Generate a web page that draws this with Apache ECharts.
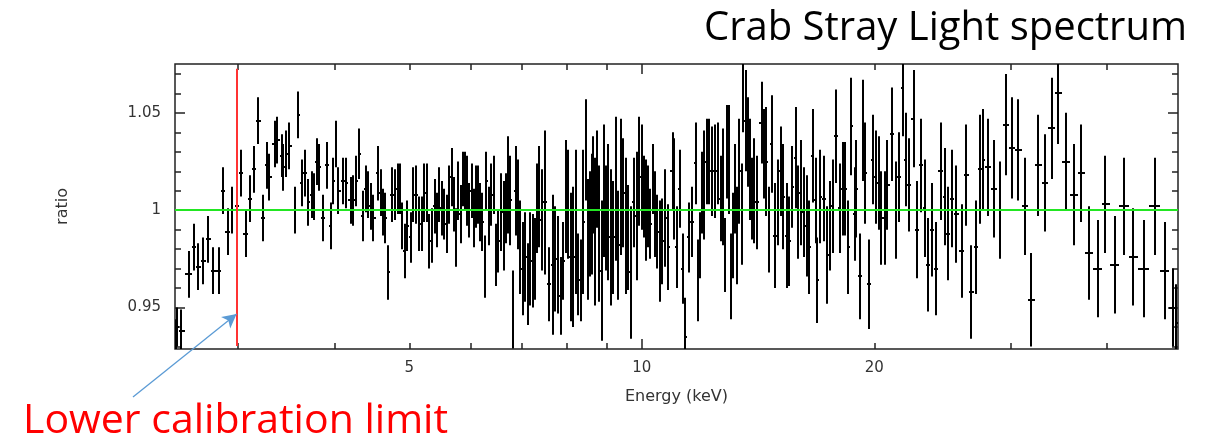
<!DOCTYPE html>
<html>
<head>
<meta charset="utf-8">
<script src="https://cdn.jsdelivr.net/npm/echarts@6/dist/echarts.min.js"></script>
<style>
  html, body { margin: 0; padding: 0; background: #fff; }
  #chart { width: 1217px; height: 442px; }
</style>
</head>
<body>
<div id="chart"></div>
<script>
// bin centres (keV), data/model ratio and its 1-sigma error
const energy = [
  2.49, 2.50, 2.53, 2.592, 2.631, 2.665, 2.706, 2.747, 2.788, 2.831,
  2.869, 2.908, 2.950, 2.989, 3.024, 3.072, 3.109, 3.147, 3.188, 3.230,
  3.268, 3.294, 3.350, 3.373, 3.417, 3.434, 3.461, 3.496, 3.555, 3.590,
  3.627, 3.663, 3.700, 3.737, 3.763, 3.793, 3.819, 3.868, 3.915, 3.955,
  3.986, 4.017, 4.045,
  4.106, 4.139, 4.198, 4.230, 4.264, 4.306, 4.350, 4.393, 4.423, 4.455,
  4.489, 4.557, 4.589, 4.625, 4.649, 4.694, 4.742, 4.789, 4.827, 4.861,
  4.885, 4.934, 4.968, 5.019, 5.058, 5.099, 5.149, 5.186, 5.226, 5.273,
  5.304, 5.347, 5.395, 5.432, 5.465, 5.504, 5.541, 5.586, 5.630, 5.670,
  5.709, 5.743, 5.783, 5.824, 5.859, 5.899, 5.929, 5.975, 6.018, 6.059,
  6.095, 6.137, 6.181, 6.218, 6.261, 6.292, 6.342, 6.387, 6.431, 6.469,
  6.514,
  6.580, 6.625, 6.665, 6.711, 6.759, 6.813, 6.867, 6.915, 6.964, 7.006,
  7.056, 7.126, 7.162, 7.219, 7.268, 7.318, 7.362,
  7.417, 7.490, 7.588, 7.665, 7.719, 7.794, 7.850, 7.911, 7.975, 8.030,
  8.088, 8.150, 8.216, 8.272, 8.332, 8.398, 8.466, 8.525, 8.568, 8.610,
  8.650, 8.693, 8.754, 8.806, 8.869, 8.930, 8.984, 9.046, 9.111, 9.182,
  9.256, 9.320,
  9.395, 9.460, 9.537, 9.601, 9.672, 9.765, 9.845, 9.922, 9.993, 10.06,
  10.12, 10.19, 10.26, 10.33, 10.40, 10.47,
  10.55, 10.63, 10.71, 10.82, 10.96, 11.00, 11.09, 11.20, 11.29, 11.39,
  11.52, 11.60, 11.75, 11.83, 11.89, 11.98, 12.03, 12.13, 12.22, 12.31,
  12.43, 12.56, 12.65, 12.75, 12.81, 12.90, 12.97, 13.03, 13.11, 13.20,
  13.29, 13.37, 13.47, 13.51, 13.64, 13.71, 13.80, 13.87, 13.97, 14.08,
  14.29, 14.39, 14.50, 14.62, 14.72, 14.87, 15.02, 15.12, 15.24, 15.40,
  15.52, 15.67, 15.83, 15.94, 16.05, 16.21, 16.34, 16.47, 16.66, 16.80,
  16.87, 17.00,
  17.21, 17.38, 17.52, 17.66, 17.83, 18.05, 18.19, 18.32, 18.50, 18.68,
  18.87, 18.96, 19.19, 19.34, 19.44, 19.69, 19.93, 20.09, 20.29, 20.38,
  20.65, 20.79, 21.07, 21.35, 21.50, 21.80, 21.95, 22.18, 22.48, 22.71,
  23.00, 23.23, 23.48, 23.72, 24.01, 24.41, 24.67, 24.92, 25.23, 25.55,
  25.96, 26.29, 26.70, 27.11, 27.40,
  27.67, 28.05, 28.56, 29.08, 29.60, 30.16, 30.74, 31.33, 31.89, 32.63,
  33.25, 33.98, 34.59, 35.39, 36.25, 37.09, 37.91, 38.98, 39.84, 40.96,
  42.11, 43.26, 44.66, 46.15, 47.64, 48.7, 49.2
];

const ratio = [
  0.932, 0.940, 0.938, 0.967, 0.981, 0.971, 0.974, 0.985, 0.969, 0.969,
  1.010, 0.989, 1.000, 1.002, 1.019, 0.988, 1.006, 1.021, 1.046, 0.996,
  1.023, 1.017, 1.034, 1.036, 1.028, 1.022, 1.029, 1.033, 1.000, 1.049,
  1.014, 1.019, 1.004, 1.008, 1.007, 1.025, 1.022, 0.996, 1.023, 0.992,
  1.015, 1.034, 1.010,
  1.015, 1.014, 1.005, 1.005, 1.015, 1.029, 0.997, 1.011, 1.008, 1.002,
  0.996, 1.019, 1.009, 0.999, 0.996, 0.968, 1.008, 1.008, 1.011, 1.011,
  0.992, 0.979, 0.992, 0.986, 1.008, 1.008, 0.993, 0.993, 1.009, 1.009,
  0.984, 0.987, 1.002, 0.995, 1.008, 1.001, 0.998, 0.993, 1.008, 1.017,
  1.003, 0.986, 1.010, 0.998, 1.016, 1.015, 1.010, 1.000, 1.010, 0.996,
  1.007, 1.008, 0.999, 0.994, 0.971, 1.015, 0.997, 1.008, 1.013, 0.977,
  0.984,
  0.999, 0.992, 1.001, 1.013, 1.005, 0.949, 1.010, 1.003, 0.981, 0.970,
  0.976, 0.962, 0.975, 0.974, 0.975, 1.001, 1.007,
  0.995, 1.004, 0.962, 0.972, 0.975, 0.972, 0.956, 0.974, 1.007, 1.003,
  0.976, 0.976, 0.994, 0.967, 0.964, 0.994, 1.031, 0.985, 0.993, 0.998,
  1.013, 0.989, 1.016, 0.988, 0.969, 1.010, 0.996, 0.999, 0.986, 0.986,
  1.011, 0.982,
  1.012, 1.009, 0.992, 0.986, 0.968, 1.004, 0.997, 1.020, 1.017, 1.007,
  1.000, 1.002, 0.993, 1.016, 0.998, 0.989,
  0.979, 0.984, 0.996, 0.981, 1.020, 1.011, 0.981, 1.011, 0.970, 0.935,
  0.986, 0.994, 1.024, 0.964, 0.982, 1.009, 1.013, 1.025, 1.025, 1.020,
  1.020, 1.024, 1.006, 1.012, 0.977, 1.030, 1.026, 0.966, 0.987, 1.011,
  0.987, 1.020, 0.998, 1.062, 1.046, 1.035, 1.021, 1.006, 1.010, 1.004,
  1.045, 1.029, 1.025, 0.990, 1.034, 0.987, 1.004, 1.020, 1.007, 0.987,
  0.984, 1.012, 1.027, 0.999, 1.009, 0.999, 0.992, 0.981, 1.028, 1.005,
  0.964, 1.007,
  1.006, 0.977, 0.992, 1.002, 1.038, 1.001, 1.011, 1.011, 0.981, 1.043,
  0.998, 1.011, 0.966, 1.041, 1.019, 0.962, 1.026, 1.017, 1.014, 0.996,
  0.996, 1.013, 1.039, 1.000, 1.017, 1.063, 1.026, 1.013, 1.047, 0.990,
  1.023, 1.001, 0.972, 0.990, 0.970, 1.020, 1.007, 0.988, 1.006, 0.998,
  0.979, 1.018, 0.958, 0.981, 1.021,
  1.026, 1.022, 1.011, 1.000, 1.044, 1.032, 1.031, 1.002, 0.954, 1.023,
  1.014, 1.042, 1.060, 1.025, 1.008, 1.019, 0.978, 0.970, 1.003, 0.972,
  1.002, 0.976, 0.970, 1.002, 0.969, 0.950, 0.942
];

const ratioErr = [
  0.012, 0.010, 0.011, 0.012, 0.012, 0.012, 0.012, 0.012, 0.012, 0.012,
  0.012, 0.012, 0.012, 0.012, 0.012, 0.012, 0.012, 0.012, 0.012, 0.012,
  0.012, 0.012, 0.012, 0.012, 0.011, 0.012, 0.012, 0.012, 0.012, 0.012,
  0.012, 0.012, 0.012, 0.012, 0.012, 0.012, 0.012, 0.012, 0.012, 0.012,
  0.012, 0.012, 0.012,
  0.012, 0.013, 0.012, 0.013, 0.013, 0.013, 0.013, 0.012, 0.012, 0.012,
  0.012, 0.014, 0.012, 0.012, 0.013, 0.014, 0.014, 0.013, 0.013, 0.013,
  0.012, 0.014, 0.013, 0.013, 0.014, 0.015, 0.014, 0.014, 0.015, 0.015,
  0.014, 0.014, 0.014, 0.014, 0.014, 0.014, 0.013, 0.015, 0.015, 0.015,
  0.014, 0.015, 0.015, 0.015, 0.014, 0.015, 0.018, 0.014, 0.014, 0.015,
  0.016, 0.015, 0.015, 0.015, 0.016, 0.015, 0.015, 0.016, 0.015, 0.016,
  0.016,
  0.020, 0.023, 0.018, 0.025, 0.023, 0.020, 0.023, 0.023, 0.024, 0.024,
  0.023, 0.021, 0.024, 0.024, 0.021, 0.023, 0.026,
  0.026, 0.037, 0.019, 0.036, 0.027, 0.025, 0.020, 0.020, 0.029, 0.028,
  0.033, 0.036, 0.037, 0.021, 0.021, 0.037, 0.026, 0.031, 0.027, 0.031,
  0.025, 0.038, 0.025, 0.035, 0.036, 0.034, 0.027, 0.035, 0.035, 0.029,
  0.037, 0.028,
  0.035, 0.028, 0.035, 0.027, 0.034, 0.023, 0.033, 0.028, 0.027, 0.021,
  0.026, 0.021, 0.018, 0.018, 0.022, 0.019,
  0.026, 0.022, 0.025, 0.022, 0.020, 0.026, 0.021, 0.020, 0.018, 0.020,
  0.018, 0.018, 0.021, 0.021, 0.017, 0.021, 0.028, 0.022, 0.022, 0.023,
  0.024, 0.021, 0.022, 0.030, 0.019, 0.024, 0.028, 0.022, 0.022, 0.023,
  0.025, 0.027, 0.026, 0.022, 0.026, 0.023, 0.026, 0.021, 0.027, 0.024,
  0.021, 0.023, 0.028, 0.022, 0.025, 0.027, 0.022, 0.023, 0.027, 0.027,
  0.023, 0.021, 0.026, 0.024, 0.027, 0.023, 0.026, 0.024, 0.024, 0.022,
  0.022, 0.024,
  0.022, 0.025, 0.023, 0.024, 0.024, 0.023, 0.024, 0.024, 0.024, 0.025,
  0.024, 0.025, 0.022, 0.026, 0.026, 0.023, 0.023, 0.024, 0.024, 0.024,
  0.024, 0.023, 0.024, 0.025, 0.023, 0.025, 0.024, 0.024, 0.025, 0.025,
  0.024, 0.025, 0.024, 0.024, 0.024, 0.025, 0.025, 0.024, 0.025, 0.025,
  0.024, 0.026, 0.024, 0.024, 0.028,
  0.026, 0.025, 0.025, 0.025, 0.026, 0.026, 0.026, 0.025, 0.024, 0.026,
  0.025, 0.026, 0.026, 0.025, 0.026, 0.025, 0.024, 0.025, 0.025, 0.025,
  0.025, 0.025, 0.025, 0.025, 0.025, 0.020, 0.020
];

const xTicks = [3, 4, 5, 6, 7, 8, 9, 10, 20, 30, 40];
const xMajorTicks = [10];
const xLabels = [5, 10, 20];
const yTicks = [0.93, 0.94, 0.95, 0.96, 0.97, 0.98, 0.99, 1.00,
  1.01, 1.02, 1.03, 1.04, 1.05, 1.06, 1.07];
const yLabels = [0.95, 1, 1.05];
const calibLimit = 2.987;

const X_MIN = 2.486, X_MAX = 49.46;
const Y_MIN = 0.9287, Y_MAX = 1.0751;

// bin edges from the neighbouring centres (geometric means, log axis)
const points = energy.map((e, i) => {
  const prev = i > 0 ? energy[i - 1] : e * e / energy[i + 1];
  const next = i < energy.length - 1 ? energy[i + 1] : e * e / energy[i - 1];
  return [e, ratio[i], ratioErr[i], Math.sqrt(prev * e), Math.sqrt(e * next)];
});

const tickStyle = { color: '#222', width: 1.5 };
const labelFont = { color: '#333', fontFamily: 'DejaVu Sans', fontSize: 15 };

function xAxisDef(pos, ticks, len, withLabels) {
  return {
    type: 'log', min: X_MIN, max: X_MAX, position: pos,
    axisLine: { show: false },
    splitLine: { show: false },
    axisTick: { show: true, inside: true, length: len, customValues: ticks, lineStyle: tickStyle },
    axisLabel: withLabels
      ? Object.assign({ show: true, customValues: xLabels, margin: 12,
          formatter: v => String(Math.round(v)) }, labelFont)
      : { show: false }
  };
}

function yAxisDef(pos, ticks, len, withLabels) {
  return {
    type: 'value', min: Y_MIN, max: Y_MAX, position: pos,
    axisLine: { show: false },
    splitLine: { show: false },
    axisTick: { show: true, inside: true, length: len, customValues: ticks, lineStyle: tickStyle },
    axisLabel: withLabels
      ? Object.assign({ show: true, customValues: yLabels, margin: 14,
          formatter: v => String(+v.toFixed(2)) }, labelFont)
      : { show: false }
  };
}

const chart = echarts.init(document.getElementById('chart'));

const xBottom = xAxisDef('bottom', xTicks, 6, true);
xBottom.name = 'Energy (keV)';
xBottom.nameLocation = 'middle';
xBottom.nameGap = 40;
xBottom.nameTextStyle = Object.assign({}, labelFont, { fontSize: 16 });

const yLeft = yAxisDef('left', yTicks, 6, true);
yLeft.name = 'ratio';
yLeft.nameLocation = 'middle';
yLeft.nameGap = 104;
yLeft.nameRotate = 90;
yLeft.nameTextStyle = Object.assign({}, labelFont, { fontSize: 16 });

chart.setOption({
  animation: false,
  backgroundColor: '#fff',
  title: [
    {
      text: 'Crab Stray Light spectrum',
      right: 25, top: 4,
      textStyle: { fontFamily: 'Open Sans', fontSize: 40, fontWeight: 'normal', color: '#000' }
    },
    {
      text: 'Lower calibration limit',
      left: 18, top: 396,
      textStyle: { fontFamily: 'Open Sans', fontSize: 41, fontWeight: 'normal', color: '#ff0000' }
    }
  ],
  grid: {
    left: 175, right: 39, top: 64, bottom: 93,
    show: true, borderColor: '#222', borderWidth: 1.5,
    backgroundColor: 'transparent',
    outerBoundsMode: 'none'
  },
  xAxis: [
    xBottom,
    xAxisDef('top', xTicks, 6, false),
    xAxisDef('bottom', xMajorTicks, 10, false),
    xAxisDef('top', xMajorTicks, 10, false)
  ],
  yAxis: [
    yLeft,
    yAxisDef('right', yTicks, 6, false),
    yAxisDef('left', yLabels, 10, false),
    yAxisDef('right', yLabels, 10, false)
  ],
  series: [
    {
      type: 'custom',
      name: 'ratio',
      clip: true,
      data: points,
      encode: { x: 0, y: 1 },
      renderItem: function (params, api) {
        const e = api.value(0), r = api.value(1), s = api.value(2);
        const top = api.coord([e, r + s]);
        const bot = api.coord([e, r - s]);
        const lo = api.coord([api.value(3), r]);
        const hi = api.coord([api.value(4), r]);
        // snap to whole pixels so the 2px strokes stay solid black
        const cx = Math.round(top[0]);
        const cy = Math.round(lo[1]);
        const st = { stroke: '#000', lineWidth: 2 };
        return {
          type: 'group',
          children: [
            { type: 'line', shape: { x1: cx, y1: top[1], x2: cx, y2: bot[1] }, style: st },
            { type: 'line', shape: { x1: Math.round(lo[0]), y1: cy, x2: Math.round(hi[0]), y2: cy }, style: st }
          ]
        };
      }
    },
    {
      type: 'line',
      data: [],
      clip: false,
      z: 5,
      markLine: {
        silent: true,
        symbol: ['none', 'none'],
        label: { show: false },
        animation: false,
        data: [
          { yAxis: 1, lineStyle: { color: '#22e622', width: 2, type: 'solid' } },
          [
            { coord: [calibLimit, 0.9302], lineStyle: { color: '#ff3333', width: 2, type: 'solid' } },
            { coord: [calibLimit, 1.0726] }
          ],
          [
            { x: 133, y: 397, symbol: 'none', lineStyle: { color: '#5b9bd5', width: 1.3, type: 'solid' } },
            { coord: [calibLimit, 0.9467], symbol: 'arrow', symbolSize: [11, 14] }
          ]
        ]
      }
    }
  ]
});
</script>
</body>
</html>
